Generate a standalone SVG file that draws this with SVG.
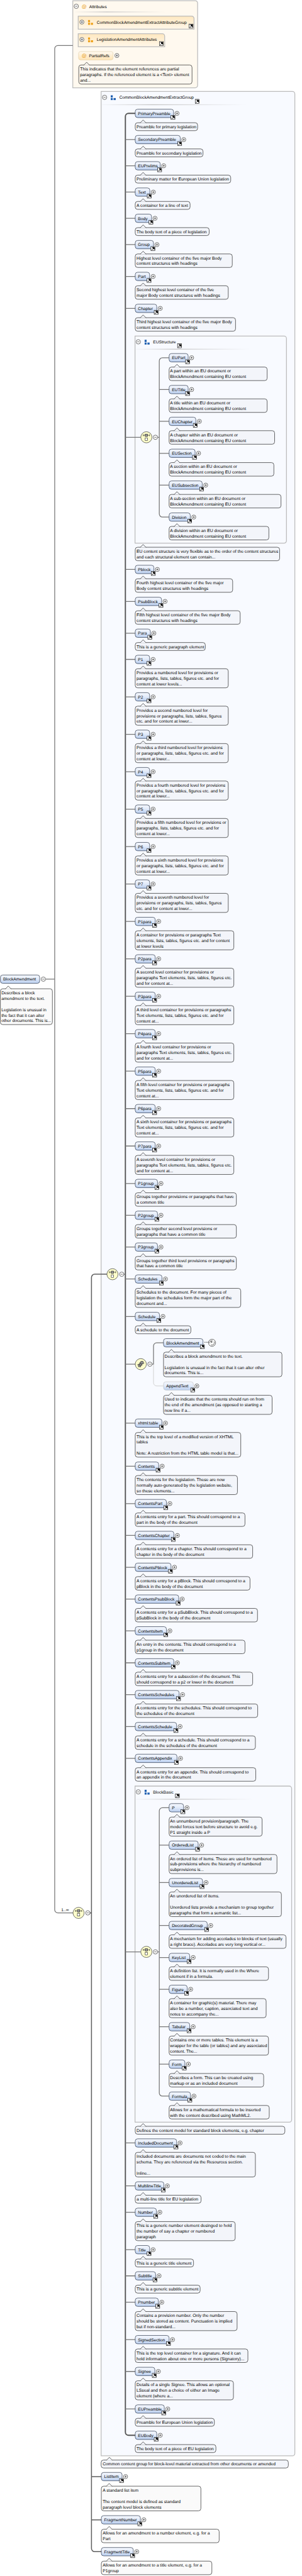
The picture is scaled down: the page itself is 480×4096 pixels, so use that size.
<svg xmlns="http://www.w3.org/2000/svg" width="480" height="4096" viewBox="0 0 480 4096">
<style>
text{font-family:"Liberation Sans",Arial,sans-serif;fill:#000;stroke:none;text-rendering:geometricPrecision}
.l{font-size:10.5px}
.c{font-size:10.67px}
.at{font-size:12.5px;fill:#e8a020}
.e{fill:url(#ge);stroke:#17243a;stroke-width:1;rx:6px}
.o{fill:url(#ge);stroke:#c4c4c4;stroke-width:1;rx:6px}
.n{stroke:#111;stroke-width:1;rx:6px}
.f{fill:#f8faff;stroke:#bcbcbc;stroke-width:2}
.ag{fill:url(#gg);stroke:#bcbcbc;stroke-width:2}
.sp{fill:url(#gs)}
.w{fill:#fafafa}
.cn{fill:none;stroke:#777;stroke-width:2}
.cd{fill:none;stroke:#555;stroke-width:3}
.cm{fill:none;stroke:#5e5e5e;stroke-width:2.4}
.cl{fill:none;stroke:#ccc;stroke-width:1.4}
</style>
<defs>
<linearGradient id="ge" x1="0" y1="0" x2="0" y2="1"><stop offset="0" stop-color="#f4f7fd"/><stop offset=".45" stop-color="#e4ecfa"/><stop offset="1" stop-color="#b8cdee"/></linearGradient>
<linearGradient id="gg" x1="0" y1="0" x2="0" y2="1"><stop offset="0" stop-color="#ffe8c0"/><stop offset="1" stop-color="#fff7e9"/></linearGradient>
<linearGradient id="gr" x1="0" y1="0" x2="0" y2="1"><stop offset="0" stop-color="#fffaf2"/><stop offset="1" stop-color="#ffe3b4"/></linearGradient>
<linearGradient id="gs"><stop offset="0" stop-color="#ccc" stop-opacity=".1"/><stop offset=".35" stop-color="#c4c4c4"/><stop offset="1" stop-color="#ccc" stop-opacity="0"/></linearGradient>
<g id="a"><rect x="-5" y="-5" width="10" height="10" fill="#fff" stroke="#000"/><path d="M-3 3.5L2 -1.5M-1.500 -3H3.500V2z" fill="#000" stroke="#000" stroke-width="1.500"/></g>
<g id="p"><circle r="5.2" fill="#fff" stroke="#222"/><path d="M-2.800 0H2.800M0 -2.800V2.800" stroke="#222" fill="none"/></g>
<g id="m"><circle r="5.500" fill="#fff" stroke="#222"/><path d="M-2.800 0H2.800" stroke="#222" fill="none"/></g>
<path id="t" d="M12.400 24.100L19.800 16.500L27.200 24.100" stroke="#111" stroke-width="1"/>
<g id="s"><ellipse rx="14" ry="14" fill="#ffffcc" stroke="#222"/><path d="M-8 -5H8M-8 -7.500V-2.500M8 -7.500V-2.500" stroke="#222" fill="none"/><rect x="-3" y="-8" width="6" height="6" fill="#999" stroke="#222"/><rect x="-3" y="1.500" width="6" height="6.500" fill="#fff" stroke="#222"/></g>
<g id="ch"><ellipse rx="14" ry="14" fill="#ffffcc" stroke="#222"/><path d="M-9 1.500H-4M4 -3H9" stroke="#222" fill="none"/><rect x="-6" y="0" width="6" height="6.500" fill="#999" stroke="#222"/><rect x="-3" y="-3.500" width="6" height="6.500" fill="#999" stroke="#222"/><rect x="0" y="-7" width="6" height="6.500" fill="#999" stroke="#222"/></g>
<g id="gb" fill="#2060b0"><rect width="5" height="5.500"/><rect y="7" width="5" height="5"/><rect x="7" y="7" width="5.500" height="5"/></g>
<g id="go" fill="#eea11a"><rect width="5" height="5.500"/><rect y="7" width="5" height="5"/><rect x="7" y="7" width="5.500" height="5"/></g>
</defs>
<g transform="scale(.63325 .63308)" fill="#f3f5fa">

<g id="AttributesFrame">
<path class="f" style="fill:#fff9ef" d="M182.700 1.700H490a6 6 0 0 1 6 6V214.400a6 6 0 0 1-6 6H182.700z"/>
<use href="#m" x="191.400" y="15.800"/><text class="at" x="205" y="20.500">@</text><text class="l" x="223.800" y="20">Attributes</text>
<rect class="sp" x="188" y="29" width="228" height="2"/>
</g>
<g id="CommonBlockAmendmentExtractGroupFrame">
<path class="f" d="M253.800 229.700H734a6 6 0 0 1 6 6V6162.200a6 6 0 0 1-6 6H253.800z"/>
<use href="#m" x="262.500" y="244.500"/><use href="#gb" x="278" y="239.300"/><text class="l" x="299.700" y="248.500">CommonBlockAmendmentExtractGroup</text><use href="#a" x="495" y="254.500"/>
<rect class="sp" x="256" y="262" width="365" height="2"/>
<g transform="translate(253.800 6155.300)"><rect class="n" y="23.400" width="469.900" height="20"/><use href="#t" x="1"/><text class="c" x="3.900" y="37.400">Common content group for block-level material extracted from other documents or amended</text></g>
</g>
<g id="EUStructureFrame">
<path class="f" d="M338.900 844.100H713a6 6 0 0 1 6 6V1358.100a6 6 0 0 1-6 6H338.900z"/>
<use href="#m" x="347.100" y="858.600"/><use href="#gb" x="363" y="853.400"/><text class="l" x="384.300" y="862.600">EUStructure</text><use href="#a" x="450.600" y="868.500"/>
<rect class="sp" x="341" y="876" width="287" height="2"/>
<g transform="translate(339.400 1351)"><rect class="n" y="23.400" width="362.500" height="34"/><use href="#t"/><text class="c" x="3.400" y="37.400">EU content structure is very flexible as to the order of the content structures</text><text class="c" x="3.400" y="51.400">and each structural element can contain...</text></g>
</g>
<g id="BlockBasicFrame">
<path class="f" d="M338.900 4486H726a6 6 0 0 1 6 6V5324.100a6 6 0 0 1-6 6H338.900z"/>
<use href="#m" x="347.100" y="4500.500"/><use href="#gb" x="363" y="4495.300"/><text class="l" x="384.300" y="4504.500">BlockBasic</text><use href="#a" x="445.200" y="4510.400"/>
<rect class="sp" x="341" y="4518" width="296" height="2"/>
<g transform="translate(339.400 5317)"><rect class="n" y="23.400" width="375.600" height="20"/><use href="#t"/><text class="c" x="3.400" y="37.400">Defines the content model for standard block elements, e.g. chapter</text></g>
</g>

<g id="connectors">
<path class="cn" d="M182.700 114.300H145.300a8 8 0 0 0-8 8V4796.500a8 8 0 0 0 8 8H183.700M114.600 2459.300H137.300"/>
<path class="cm" d="M268.300 3200.400H237.600a8 8 0 0 0-8 8V6400.900a8 8 0 0 0 8 8H254.300M226 4804.500H229.600M229.600 6220.300H254.300M229.600 6328.800H254.300"/>
<path class="cd" d="M339.400 284.800H322.700a8 8 0 0 0-8 8V6108.500a8 8 0 0 0 8 8H339.400"/>
<path class="cn" d="M310 3200.400H314.700M314.700 350.600H339.400M314.700 416.400H339.400M314.700 482.500H339.400M314.700 548.300H339.400M314.700 614.400H339.400M314.700 694.300H339.400M314.700 774.500H339.400M314.700 1098.300H353.400M314.700 1430.200H339.400M314.700 1510.500H339.400M314.700 1590.400H339.400M314.700 1656.200H339.400M314.700 1750.200H339.400M314.700 1844.200H339.400M314.700 1938.200H339.400M314.700 2032.200H339.400M314.700 2126.300H339.400M314.700 2220.300H339.400M314.700 2314.300H339.400M314.700 2408.300H339.400M314.700 2502.300H339.400M314.700 2596.300H339.400M314.700 2690.400H339.400M314.700 2784.400H339.400M314.700 2878.400H339.400M314.700 2972.400H339.400M314.700 3052.300H339.400M314.700 3132.200H339.400M314.700 3212.400H339.400M314.700 3306.500H339.400M314.700 3426.300H339.400M314.700 3574.400H339.400M314.700 3682.500H339.400M314.700 3776.500H339.400M314.700 3856.500H339.400M314.700 3936.400H339.400M314.700 4016.300H339.400M314.700 4096.100H339.400M314.700 4176.400H339.400M314.700 4256.300H339.400M314.700 4336.500H339.400M314.700 4416.400H339.400M314.700 4902.400H353.400M314.700 5382.400H339.400M314.700 5490.200H339.400M314.700 5556.400H339.400M314.700 5650.400H339.400M314.700 5716.100H339.400M314.700 5782.300H339.400M314.700 5876.300H339.400M314.700 5956.200H339.400M314.700 6050.500H339.400"/>
<path class="cn" d="M424.400 898.500H407.800a8 8 0 0 0-8 8V1290.700a8 8 0 0 0 8 8H424.400M395.500 1098.300H399.800M399.800 978.400H424.400M399.800 1058.300H424.400M399.800 1138.500H424.400M399.800 1218.400H424.400"/>
<path class="cn" d="M424.400 4540.400H407.800a8 8 0 0 0-8 8V5256.700a8 8 0 0 0 8 8H424.400M395.500 4902.400H399.800M399.800 4634.400H424.400M399.800 4728.400H424.400M399.800 4836.200H424.400M399.800 4916.500H424.400M399.800 4996.400H424.400M399.800 5090.400H424.400M399.800 5184.400H424.400"/>
<path class="cn" d="M381.500 3426.300H385.300V3380.600a8 8 0 0 1 8-8H410.400"/>
<path class="cl" d="M385.300 3426.300V3473a8 8 0 0 0 8 8H410.400"/>
</g>

<g id="CommonBlockAmendmentExtractAttributeGroup"><path class="ag" d="M196.300 40.600H481a6 6 0 0 1 6 6V73.400H196.300z"/><use href="#p" x="205.500" y="55.400"/><use href="#go" x="221" y="50.300"/><text class="l" x="242.700" y="59.400">CommonBlockAmendmentExtractAttributeGroup</text><use href="#a" x="479.600" y="65.400"/></g>
<g id="LegislationAmendmentAttributes"><path class="ag" d="M196.300 84.700H407.300a6 6 0 0 1 6 6V117.400H196.300z"/><use href="#p" x="205.500" y="99.200"/><use href="#go" x="221" y="94.100"/><text class="l" x="242.700" y="103.200">LegislationAmendmentAttributes</text><use href="#a" x="405.100" y="109.500"/></g>
<g id="PartialRefs" fill="#fbf7f0"><rect x="197.200" y="129.500" width="86.600" height="21" rx="5" fill="url(#gr)" stroke="#e0cfa8"/><text class="at" x="205" y="144.500">@</text><text class="l" x="223.300" y="144.200">PartialRefs</text><use href="#p" x="293.400" y="139.500"/>
<g transform="translate(197.700 139.800)"><rect class="n" y="23.400" width="284.300" height="48"/><use href="#t"/><text class="c" x="3.400" y="37.400">This indicates that the element references are partial</text><text class="c" x="3.400" y="51.400">paragraphs. If the referenced element is a &lt;Text&gt; element</text><text class="c" x="3.400" y="65.400">and...</text></g></g>

<g id="BlockAmendment" class="w" transform="translate(1 2459.300)"><rect class="e" y="-10.500" width="98.600" height="21"/><text class="l" x="7" y="4">BlockAmendment</text><use href="#m" x="107.800"/><rect class="n" y="24.100" width="130.500" height="90"/><use href="#t" y=".7"/><text class="c" x="2.400" y="38.100">Describes a block</text><text class="c" x="2.400" y="52.100">amendment to the text.</text><text class="c" x="2.400" y="80.100">Legislation is unusual in</text><text class="c" x="2.400" y="94.100">the fact that it can alter</text><text class="c" x="2.400" y="108.100">other documents. This is...</text></g>

<use id="seqRoot" href="#s" x="197.200" y="4804.500"/><use href="#m" x="220.400" y="4804.500"/>
<text id="occurs" class="l" x="153.700" y="4801">1..∞</text>
<use id="seqGroup" href="#s" x="282.300" y="3200.400"/><use href="#m" x="305.500" y="3200.400"/>
<use id="seqEU" href="#s" x="367.400" y="1098.300"/><use href="#m" x="390.100" y="1098.300"/>
<use id="seqBasic" href="#s" x="367.400" y="4902.400"/><use href="#m" x="390.100" y="4902.400"/>
<use id="choice" href="#ch" x="353.400" y="3426.300"/><use href="#m" x="376.100" y="3426.300"/>

<g id="PrimaryPreamble" transform="translate(339.400 284.800)"><rect class="e" y="-10.500" width="96.200" height="21"/><text class="l" x="7" y="4">PrimaryPreamble</text><use href="#a" x="94.700" y="10"/><use href="#p" x="104.900"/><rect class="n" y="23.400" width="156.600" height="20"/><use href="#t"/><text class="c" x="3.400" y="37.400">Preamble for primary legislation</text></g>
<g id="SecondaryPreamble" transform="translate(339.400 350.600)"><rect class="e" y="-10.500" width="113.100" height="21"/><text class="l" x="7" y="4">SecondaryPreamble</text><use href="#a" x="111.600" y="10"/><use href="#p" x="121.800"/><rect class="n" y="23.400" width="170.100" height="20"/><use href="#t"/><text class="c" x="3.400" y="37.400">Preamble for secondary legislation</text></g>
<g id="EUPrelims" transform="translate(339.400 416.400)"><rect class="e" y="-10.500" width="62.800" height="21"/><text class="l" x="7" y="4">EUPrelims</text><use href="#a" x="61.300" y="10"/><use href="#p" x="71.500"/><rect class="n" y="23.400" width="239.700" height="20"/><use href="#t"/><text class="c" x="3.400" y="37.400">Preliminary matter for European Union legislation</text></g>
<g id="Text" transform="translate(339.400 482.500)"><rect class="e" y="-10.500" width="36.700" height="21"/><text class="l" x="7" y="4">Text</text><use href="#a" x="35.200" y="10"/><use href="#p" x="45.400"/><rect class="n" y="23.400" width="137.700" height="20"/><use href="#t"/><text class="c" x="3.400" y="37.400">A container for a line of text</text></g>
<g id="Body" transform="translate(339.400 548.300)"><rect class="e" y="-10.500" width="41" height="21"/><text class="l" x="7" y="4">Body</text><use href="#a" x="39.500" y="10"/><use href="#p" x="49.700"/><rect class="n" y="23.400" width="185.600" height="20"/><use href="#t"/><text class="c" x="3.400" y="37.400">The body text of a piece of legislation</text></g>
<g id="Group" transform="translate(339.400 614.400)"><rect class="e" y="-10.500" width="45.900" height="21"/><text class="l" x="7" y="4">Group</text><use href="#a" x="44.400" y="10"/><use href="#p" x="54.600"/><rect class="n" y="23.400" width="243.600" height="34"/><use href="#t"/><text class="c" x="3.400" y="37.400">Highest level container of the five major Body</text><text class="c" x="3.400" y="51.400">content structures with headings</text></g>
<g id="Part" transform="translate(339.400 694.300)"><rect class="e" y="-10.500" width="36.200" height="21"/><text class="l" x="7" y="4">Part</text><use href="#a" x="34.700" y="10"/><use href="#p" x="44.900"/><rect class="n" y="23.400" width="233.500" height="34"/><use href="#t"/><text class="c" x="3.400" y="37.400">Second highest level container of the five</text><text class="c" x="3.400" y="51.400">major Body content structures with headings</text></g>
<g id="Chapter" transform="translate(339.400 774.500)"><rect class="e" y="-10.500" width="54.100" height="21"/><text class="l" x="7" y="4">Chapter</text><use href="#a" x="52.600" y="10"/><use href="#p" x="62.800"/><rect class="n" y="23.400" width="251.800" height="34"/><use href="#t"/><text class="c" x="3.400" y="37.400">Third highest level container of the five major Body</text><text class="c" x="3.400" y="51.400">content structures with headings</text></g>

<g id="EUPart" transform="translate(424.400 898.500)"><rect class="e" y="-10.500" width="47.900" height="21"/><text class="l" x="7" y="4">EUPart</text><use href="#a" x="46.400" y="10"/><use href="#p" x="56.600"/><rect class="n" y="23.400" width="246.100" height="34"/><use href="#t"/><text class="c" x="2.400" y="37.400">A part within an EU document or</text><text class="c" x="2.400" y="51.400">BlockAmendment containing EU content</text></g>
<g id="EUTitle" transform="translate(424.400 978.400)"><rect class="e" y="-10.500" width="47.900" height="21"/><text class="l" x="7" y="4">EUTitle</text><use href="#a" x="46.400" y="10"/><use href="#p" x="56.600"/><rect class="n" y="23.400" width="246.100" height="34"/><use href="#t"/><text class="c" x="2.400" y="37.400">A title within an EU document or</text><text class="c" x="2.400" y="51.400">BlockAmendment containing EU content</text></g>
<g id="EUChapter" transform="translate(424.400 1058.300)"><rect class="e" y="-10.500" width="67.200" height="21"/><text class="l" x="7" y="4">EUChapter</text><use href="#a" x="65.700" y="10"/><use href="#p" x="75.900"/><rect class="n" y="23.400" width="264.900" height="34"/><use href="#t"/><text class="c" x="2.400" y="37.400">A chapter within an EU document or</text><text class="c" x="2.400" y="51.400">BlockAmendment containing EU content</text></g>
<g id="EUSection" transform="translate(424.400 1138.500)"><rect class="e" y="-10.500" width="65.300" height="21"/><text class="l" x="7" y="4">EUSection</text><use href="#a" x="63.800" y="10"/><use href="#p" x="74"/><rect class="n" y="23.400" width="263" height="34"/><use href="#t"/><text class="c" x="2.400" y="37.400">A section within an EU document or</text><text class="c" x="2.400" y="51.400">BlockAmendment containing EU content</text></g>
<g id="EUSubsection" transform="translate(424.400 1218.400)"><rect class="e" y="-10.500" width="83.200" height="21"/><text class="l" x="7" y="4">EUSubsection</text><use href="#a" x="81.700" y="10"/><use href="#p" x="91.900"/><rect class="n" y="23.400" width="280.900" height="34"/><use href="#t"/><text class="c" x="2.400" y="37.400">A sub-section within an EU document or</text><text class="c" x="2.400" y="51.400">BlockAmendment containing EU content</text></g>
<g id="Division" transform="translate(424.400 1298.700)"><rect class="e" y="-10.500" width="53.200" height="21"/><text class="l" x="7" y="4">Division</text><use href="#a" x="51.700" y="10"/><use href="#p" x="61.900"/><rect class="n" y="23.400" width="250.400" height="34"/><use href="#t"/><text class="c" x="2.400" y="37.400">A division within an EU document or</text><text class="c" x="2.400" y="51.400">BlockAmendment containing EU content</text></g>

<g id="Pblock" transform="translate(339.400 1430.200)"><rect class="e" y="-10.500" width="46.900" height="21"/><text class="l" x="7" y="4">Pblock</text><use href="#a" x="45.400" y="10"/><use href="#p" x="55.600"/><rect class="n" y="23.400" width="244.600" height="34"/><use href="#t"/><text class="c" x="3.400" y="37.400">Fourth highest level container of the five major</text><text class="c" x="3.400" y="51.400">Body content structures with headings</text></g>
<g id="PsubBlock" transform="translate(339.400 1510.500)"><rect class="e" y="-10.500" width="66.200" height="21"/><text class="l" x="7" y="4">PsubBlock</text><use href="#a" x="64.700" y="10"/><use href="#p" x="74.900"/><rect class="n" y="23.400" width="263.400" height="34"/><use href="#t"/><text class="c" x="3.400" y="37.400">Fifth highest level container of the five major Body</text><text class="c" x="3.400" y="51.400">content structures with headings</text></g>
<g id="Para" transform="translate(339.400 1590.400)"><rect class="e" y="-10.500" width="38.100" height="21"/><text class="l" x="7" y="4">Para</text><use href="#a" x="36.600" y="10"/><use href="#p" x="46.800"/><rect class="n" y="23.400" width="175.900" height="20"/><use href="#t"/><text class="c" x="3.400" y="37.400">This is a generic paragraph element</text></g>
<g id="P1" transform="translate(339.400 1656.200)"><rect class="e" y="-10.500" width="36.200" height="21"/><text class="l" x="7" y="4">P1</text><use href="#a" x="34.700" y="10"/><use href="#p" x="44.900"/><rect class="n" y="23.400" width="233.500" height="48"/><use href="#t"/><text class="c" x="3.400" y="37.400">Provides a numbered level for provisions or</text><text class="c" x="3.400" y="51.400">paragraphs, lists, tables, figures etc. and for</text><text class="c" x="3.400" y="65.400">content at lower levels...</text></g>
<g id="P2" transform="translate(339.400 1750.200)"><rect class="e" y="-10.500" width="36.200" height="21"/><text class="l" x="7" y="4">P2</text><use href="#a" x="34.700" y="10"/><use href="#p" x="44.900"/><rect class="n" y="23.400" width="233.500" height="48"/><use href="#t"/><text class="c" x="3.400" y="37.400">Provides a second numbered level for</text><text class="c" x="3.400" y="51.400">provisions or paragraphs, lists, tables, figures</text><text class="c" x="3.400" y="65.400">etc. and for content at lower...</text></g>
<g id="P3" transform="translate(339.400 1844.200)"><rect class="e" y="-10.500" width="36.200" height="21"/><text class="l" x="7" y="4">P3</text><use href="#a" x="34.700" y="10"/><use href="#p" x="44.900"/><rect class="n" y="23.400" width="233.500" height="48"/><use href="#t"/><text class="c" x="3.400" y="37.400">Provides a third numbered level for provisions</text><text class="c" x="3.400" y="51.400">or paragraphs, lists, tables, figures etc. and for</text><text class="c" x="3.400" y="65.400">content at lower...</text></g>
<g id="P4" transform="translate(339.400 1938.200)"><rect class="e" y="-10.500" width="36.200" height="21"/><text class="l" x="7" y="4">P4</text><use href="#a" x="34.700" y="10"/><use href="#p" x="44.900"/><rect class="n" y="23.400" width="233.500" height="48"/><use href="#t"/><text class="c" x="3.400" y="37.400">Provides a fourth numbered level for provisions</text><text class="c" x="3.400" y="51.400">or paragraphs, lists, tables, figures etc. and for</text><text class="c" x="3.400" y="65.400">content at lower...</text></g>
<g id="P5" transform="translate(339.400 2032.200)"><rect class="e" y="-10.500" width="36.200" height="21"/><text class="l" x="7" y="4">P5</text><use href="#a" x="34.700" y="10"/><use href="#p" x="44.900"/><rect class="n" y="23.400" width="233.500" height="48"/><use href="#t"/><text class="c" x="3.400" y="37.400">Provides a fifth numbered level for provisions or</text><text class="c" x="3.400" y="51.400">paragraphs, lists, tables, figures etc. and for</text><text class="c" x="3.400" y="65.400">content at lower...</text></g>
<g id="P6" transform="translate(339.400 2126.300)"><rect class="e" y="-10.500" width="36.200" height="21"/><text class="l" x="7" y="4">P6</text><use href="#a" x="34.700" y="10"/><use href="#p" x="44.900"/><rect class="n" y="23.400" width="233.500" height="48"/><use href="#t"/><text class="c" x="3.400" y="37.400">Provides a sixth numbered level for provisions</text><text class="c" x="3.400" y="51.400">or paragraphs, lists, tables, figures etc. and for</text><text class="c" x="3.400" y="65.400">content at lower...</text></g>
<g id="P7" transform="translate(339.400 2220.300)"><rect class="e" y="-10.500" width="36.200" height="21"/><text class="l" x="7" y="4">P7</text><use href="#a" x="34.700" y="10"/><use href="#p" x="44.900"/><rect class="n" y="23.400" width="233.500" height="48"/><use href="#t"/><text class="c" x="3.400" y="37.400">Provides a seventh numbered level for</text><text class="c" x="3.400" y="51.400">provisions or paragraphs, lists, tables, figures</text><text class="c" x="3.400" y="65.400">etc. and for content at lower...</text></g>
<g id="P1para" transform="translate(339.400 2314.300)"><rect class="e" y="-10.500" width="50.200" height="21"/><text class="l" x="7" y="4">P1para</text><use href="#a" x="48.700" y="10"/><use href="#p" x="58.900"/><rect class="n" y="23.400" width="247.500" height="48"/><use href="#t"/><text class="c" x="3.400" y="37.400">A container for provisions or paragraphs Text</text><text class="c" x="3.400" y="51.400">elements, lists, tables, figures etc. and for content</text><text class="c" x="3.400" y="65.400">at lower levels</text></g>
<g id="P2para" transform="translate(339.400 2408.300)"><rect class="e" y="-10.500" width="50.200" height="21"/><text class="l" x="7" y="4">P2para</text><use href="#a" x="48.700" y="10"/><use href="#p" x="58.900"/><rect class="n" y="23.400" width="247.500" height="48"/><use href="#t"/><text class="c" x="3.400" y="37.400">A second level container for provisions or</text><text class="c" x="3.400" y="51.400">paragraphs Text elements, lists, tables, figures etc.</text><text class="c" x="3.400" y="65.400">and for content at...</text></g>
<g id="P3para" transform="translate(339.400 2502.300)"><rect class="e" y="-10.500" width="50.200" height="21"/><text class="l" x="7" y="4">P3para</text><use href="#a" x="48.700" y="10"/><use href="#p" x="58.900"/><rect class="n" y="23.400" width="247.500" height="48"/><use href="#t"/><text class="c" x="3.400" y="37.400">A third level container for provisions or paragraphs</text><text class="c" x="3.400" y="51.400">Text elements, lists, tables, figures etc. and for</text><text class="c" x="3.400" y="65.400">content at...</text></g>
<g id="P4para" transform="translate(339.400 2596.300)"><rect class="e" y="-10.500" width="50.200" height="21"/><text class="l" x="7" y="4">P4para</text><use href="#a" x="48.700" y="10"/><use href="#p" x="58.900"/><rect class="n" y="23.400" width="247.500" height="48"/><use href="#t"/><text class="c" x="3.400" y="37.400">A fourth level container for provisions or</text><text class="c" x="3.400" y="51.400">paragraphs Text elements, lists, tables, figures etc.</text><text class="c" x="3.400" y="65.400">and for content at...</text></g>
<g id="P5para" transform="translate(339.400 2690.400)"><rect class="e" y="-10.500" width="50.200" height="21"/><text class="l" x="7" y="4">P5para</text><use href="#a" x="48.700" y="10"/><use href="#p" x="58.900"/><rect class="n" y="23.400" width="247.500" height="48"/><use href="#t"/><text class="c" x="3.400" y="37.400">A fifth level container for provisions or paragraphs</text><text class="c" x="3.400" y="51.400">Text elements, lists, tables, figures etc. and for</text><text class="c" x="3.400" y="65.400">content at...</text></g>
<g id="P6para" transform="translate(339.400 2784.400)"><rect class="e" y="-10.500" width="50.200" height="21"/><text class="l" x="7" y="4">P6para</text><use href="#a" x="48.700" y="10"/><use href="#p" x="58.900"/><rect class="n" y="23.400" width="247.500" height="48"/><use href="#t"/><text class="c" x="3.400" y="37.400">A sixth level container for provisions or paragraphs</text><text class="c" x="3.400" y="51.400">Text elements, lists, tables, figures etc. and for</text><text class="c" x="3.400" y="65.400">content at...</text></g>
<g id="P7para" transform="translate(339.400 2878.400)"><rect class="e" y="-10.500" width="50.200" height="21"/><text class="l" x="7" y="4">P7para</text><use href="#a" x="48.700" y="10"/><use href="#p" x="58.900"/><rect class="n" y="23.400" width="247.500" height="48"/><use href="#t"/><text class="c" x="3.400" y="37.400">A seventh level container for provisions or</text><text class="c" x="3.400" y="51.400">paragraphs Text elements, lists, tables, figures etc.</text><text class="c" x="3.400" y="65.400">and for content at...</text></g>
<g id="P1group" transform="translate(339.400 2972.400)"><rect class="e" y="-10.500" width="56" height="21"/><text class="l" x="7" y="4">P1group</text><use href="#a" x="54.500" y="10"/><use href="#p" x="64.700"/><rect class="n" y="23.400" width="253.800" height="34"/><use href="#t"/><text class="c" x="3.400" y="37.400">Groups together provisions or paragraphs that have</text><text class="c" x="3.400" y="51.400">a common title</text></g>
<g id="P2group" transform="translate(339.400 3052.300)"><rect class="e" y="-10.500" width="56" height="21"/><text class="l" x="7" y="4">P2group</text><use href="#a" x="54.500" y="10"/><use href="#p" x="64.700"/><rect class="n" y="23.400" width="253.800" height="34"/><use href="#t"/><text class="c" x="3.400" y="37.400">Groups together second level provisions or</text><text class="c" x="3.400" y="51.400">paragraphs that have a common title</text></g>
<g id="P3group" transform="translate(339.400 3132.200)"><rect class="e" y="-10.500" width="56" height="21"/><text class="l" x="7" y="4">P3group</text><use href="#a" x="54.500" y="10"/><use href="#p" x="64.700"/><rect class="n" y="23.400" width="253.800" height="34"/><use href="#t"/><text class="c" x="3.400" y="37.400">Groups together third level provisions or paragraphs</text><text class="c" x="3.400" y="51.400">that have a common title</text></g>
<g id="Schedules" transform="translate(339.400 3212.400)"><rect class="e" y="-10.500" width="67.200" height="21"/><text class="l" x="7" y="4">Schedules</text><use href="#a" x="65.700" y="10"/><use href="#p" x="75.900"/><rect class="n" y="23.400" width="264.900" height="48"/><use href="#t"/><text class="c" x="3.400" y="37.400">Schedules to the document. For many pieces of</text><text class="c" x="3.400" y="51.400">legislation the schedules form the major part of the</text><text class="c" x="3.400" y="65.400">document and...</text></g>
<g id="Schedule" transform="translate(339.400 3306.500)"><rect class="e" y="-10.500" width="60.900" height="21"/><text class="l" x="7" y="4">Schedule</text><use href="#a" x="59.400" y="10"/><use href="#p" x="69.600"/><rect class="n" y="23.400" width="139.700" height="20"/><use href="#t"/><text class="c" x="3.400" y="37.400">A schedule to the document</text></g>

<g id="BlockAmendmentRef" transform="translate(410.400 3372.600)"><rect class="e" y="-10.500" width="99.100" height="21"/><text class="l" x="7" y="4">BlockAmendment</text><use href="#a" x="97.600" y="10"/><path d="M103 -1.500h1.800M106.800 -1.500h1.800M110.600 -1.500h1.800" stroke="#111" stroke-width="1.600" fill="none"/><circle cx="121.800" r="9" fill="#fff" stroke="#222"/><circle cx="121.800" r="5.800" fill="none" stroke="#222" stroke-dasharray="12 4"/><path d="M118.500 -3.500h4.500l-2 3.500z" fill="#222"/><rect class="n" y="23.400" width="297.300" height="62"/><use href="#t"/><text class="c" x="2.600" y="37.400">Describes a block amendment to the text.</text><text class="c" x="2.600" y="65.400">Legislation is unusual in the fact that it can alter other</text><text class="c" x="2.600" y="79.400">documents. This is...</text></g>
<g id="AppendText" transform="translate(410.400 3481)"><rect class="o" y="-10.500" width="75" height="21"/><text class="l" x="7" y="4">AppendText</text><use href="#a" x="73.500" y="10"/><use href="#p" x="83.700"/><rect class="n" y="23.400" width="272.600" height="48"/><use href="#t"/><text class="c" x="2.600" y="37.400">Used to indicate that the contents should run on from</text><text class="c" x="2.600" y="51.400">the end of the amendment (as opposed to starting a</text><text class="c" x="2.600" y="65.400">new line if a...</text></g>

<g id="xhtml-table" transform="translate(339.400 3574.400)"><rect class="e" y="-10.500" width="67.200" height="21"/><text class="l" x="7" y="4">xhtml:table</text><use href="#a" x="65.700" y="10"/><use href="#p" x="75.900"/><rect class="n" y="23.400" width="264.900" height="62"/><use href="#t"/><text class="c" x="3.400" y="37.400">This is the top level of a modified version of XHTML</text><text class="c" x="3.400" y="51.400">tables</text><text class="c" x="3.400" y="79.400">Note: A restriction from the HTML table model is that...</text></g>
<g id="Contents" transform="translate(339.400 3682.500)"><rect class="e" y="-10.500" width="58.900" height="21"/><text class="l" x="7" y="4">Contents</text><use href="#a" x="57.400" y="10"/><use href="#p" x="67.600"/><rect class="n" y="23.400" width="256.600" height="48"/><use href="#t"/><text class="c" x="3.400" y="37.400">The contents for the legislation. These are now</text><text class="c" x="3.400" y="51.400">normally auto-generated by the legislation website,</text><text class="c" x="3.400" y="65.400">so these elements...</text></g>
<g id="ContentsPart" transform="translate(339.400 3776.500)"><rect class="e" y="-10.500" width="78.300" height="21"/><text class="l" x="7" y="4">ContentsPart</text><use href="#a" x="76.800" y="10"/><use href="#p" x="87"/><rect class="n" y="23.400" width="275.500" height="34"/><use href="#t"/><text class="c" x="3.400" y="37.400">A contents entry for a part. This should correspond to a</text><text class="c" x="3.400" y="51.400">part in the body of the document</text></g>
<g id="ContentsChapter" transform="translate(339.400 3856.500)"><rect class="e" y="-10.500" width="97.100" height="21"/><text class="l" x="7" y="4">ContentsChapter</text><use href="#a" x="95.600" y="10"/><use href="#p" x="105.800"/><rect class="n" y="23.400" width="294.800" height="34"/><use href="#t"/><text class="c" x="3.400" y="37.400">A contents entry for a chapter. This should correspond to a</text><text class="c" x="3.400" y="51.400">chapter in the body of the document</text></g>
<g id="ContentsPblock" transform="translate(339.400 3936.400)"><rect class="e" y="-10.500" width="89.900" height="21"/><text class="l" x="7" y="4">ContentsPblock</text><use href="#a" x="88.400" y="10"/><use href="#p" x="98.600"/><rect class="n" y="23.400" width="288.100" height="34"/><use href="#t"/><text class="c" x="3.400" y="37.400">A contents entry for a pBlock. This should correspond to a</text><text class="c" x="3.400" y="51.400">pBlock in the body of the document</text></g>
<g id="ContentsPsubBlock" transform="translate(339.400 4016.300)"><rect class="e" y="-10.500" width="109.200" height="21"/><text class="l" x="7" y="4">ContentsPsubBlock</text><use href="#a" x="107.700" y="10"/><use href="#p" x="117.900"/><rect class="n" y="23.400" width="306.900" height="34"/><use href="#t"/><text class="c" x="3.400" y="37.400">A contents entry for a pSubBlock. This should correspond to a</text><text class="c" x="3.400" y="51.400">pSubBlock in the body of the document</text></g>
<g id="ContentsItem" transform="translate(339.400 4096.100)"><rect class="e" y="-10.500" width="78.300" height="21"/><text class="l" x="7" y="4">ContentsItem</text><use href="#a" x="76.800" y="10"/><use href="#p" x="87"/><rect class="n" y="23.400" width="275.500" height="34"/><use href="#t"/><text class="c" x="3.400" y="37.400">An entry in the contents. This should correspond to a</text><text class="c" x="3.400" y="51.400">p1group in the document</text></g>
<g id="ContentsSubItem" transform="translate(339.400 4176.400)"><rect class="e" y="-10.500" width="97.100" height="21"/><text class="l" x="7" y="4">ContentsSubItem</text><use href="#a" x="95.600" y="10"/><use href="#p" x="105.800"/><rect class="n" y="23.400" width="294.800" height="34"/><use href="#t"/><text class="c" x="3.400" y="37.400">A contents entry for a subsection of the document. This</text><text class="c" x="3.400" y="51.400">should correspond to a p2 or lower in the document</text></g>
<g id="ContentsSchedules" transform="translate(339.400 4256.300)"><rect class="e" y="-10.500" width="110.200" height="21"/><text class="l" x="7" y="4">ContentsSchedules</text><use href="#a" x="108.700" y="10"/><use href="#p" x="118.900"/><rect class="n" y="23.400" width="307.400" height="34"/><use href="#t"/><text class="c" x="3.400" y="37.400">A contents entry for the schedules. This should correspond to</text><text class="c" x="3.400" y="51.400">the schedules of the document</text></g>
<g id="ContentsSchedule" transform="translate(339.400 4336.500)"><rect class="e" y="-10.500" width="103.900" height="21"/><text class="l" x="7" y="4">ContentsSchedule</text><use href="#a" x="102.400" y="10"/><use href="#p" x="112.600"/><rect class="n" y="23.400" width="301.600" height="34"/><use href="#t"/><text class="c" x="3.400" y="37.400">A contents entry for a schedule. This should correspond to a</text><text class="c" x="3.400" y="51.400">schedule in the schedules of the document</text></g>
<g id="ContentsAppendix" transform="translate(339.400 4416.400)"><rect class="e" y="-10.500" width="104.900" height="21"/><text class="l" x="7" y="4">ContentsAppendix</text><use href="#a" x="103.400" y="10"/><use href="#p" x="113.600"/><rect class="n" y="23.400" width="302.600" height="34"/><use href="#t"/><text class="c" x="3.400" y="37.400">A contents entry for an appendix. This should correspond to</text><text class="c" x="3.400" y="51.400">an appendix in the document</text></g>

<g id="P" transform="translate(424.400 4540.400)"><rect class="e" y="-10.500" width="36.300" height="21"/><text class="l" x="7" y="4">P</text><use href="#a" x="34.800" y="10"/><use href="#p" x="45"/><rect class="n" y="23.400" width="233.500" height="48"/><use href="#t"/><text class="c" x="2.400" y="37.400">An unnumbered provision/paragraph. The</text><text class="c" x="2.400" y="51.400">model forces text before structure to avoid e.g.</text><text class="c" x="2.400" y="65.400">P1 straight inside a P</text></g>
<g id="OrderedList" transform="translate(424.400 4634.400)"><rect class="e" y="-10.500" width="73" height="21"/><text class="l" x="7" y="4">OrderedList</text><use href="#a" x="71.500" y="10"/><use href="#p" x="81.700"/><rect class="n" y="23.400" width="270.800" height="48"/><use href="#t"/><text class="c" x="2.400" y="37.400">An ordered list of items. These are used for numbered</text><text class="c" x="2.400" y="51.400">sub-provisions where the hierarchy of numbered</text><text class="c" x="2.400" y="65.400">subprovisions is...</text></g>
<g id="UnorderedList" transform="translate(424.400 4728.400)"><rect class="e" y="-10.500" width="84.100" height="21"/><text class="l" x="7" y="4">UnorderedList</text><use href="#a" x="82.600" y="10"/><use href="#p" x="92.800"/><rect class="n" y="23.400" width="281.900" height="62"/><use href="#t"/><text class="c" x="2.400" y="37.400">An unordered list of items.</text><text class="c" x="2.400" y="65.400">Unordered lists provide a mechanism to group together</text><text class="c" x="2.400" y="79.400">paragraphs that form a semantic list...</text></g>
<g id="DecoratedGroup" transform="translate(424.400 4836.200)"><rect class="e" y="-10.500" width="95.800" height="21"/><text class="l" x="7" y="4">DecoratedGroup</text><use href="#a" x="94.300" y="10"/><use href="#p" x="104.500"/><rect class="n" y="23.400" width="293.500" height="34"/><use href="#t"/><text class="c" x="2.400" y="37.400">A mechanism for adding accolades to blocks of text (usually</text><text class="c" x="2.400" y="51.400">a right brace). Accolades are very long vertical or...</text></g>
<g id="KeyList" transform="translate(424.400 4916.500)"><rect class="e" y="-10.500" width="51.800" height="21"/><text class="l" x="7" y="4">KeyList</text><use href="#a" x="50.300" y="10"/><use href="#p" x="60.500"/><rect class="n" y="23.400" width="249.500" height="34"/><use href="#t"/><text class="c" x="2.400" y="37.400">A definition list. It is normally used in the Where</text><text class="c" x="2.400" y="51.400">element if in a formula.</text></g>
<g id="Figure" transform="translate(424.400 4996.400)"><rect class="e" y="-10.500" width="45.500" height="21"/><text class="l" x="7" y="4">Figure</text><use href="#a" x="44" y="10"/><use href="#p" x="54.200"/><rect class="n" y="23.400" width="243.600" height="48"/><use href="#t"/><text class="c" x="2.400" y="37.400">A container for graphic(s) material. There may</text><text class="c" x="2.400" y="51.400">also be a number, caption, associated text and</text><text class="c" x="2.400" y="65.400">notes to accompany the...</text></g>
<g id="Tabular" transform="translate(424.400 5090.400)"><rect class="e" y="-10.500" width="51.800" height="21"/><text class="l" x="7" y="4">Tabular</text><use href="#a" x="50.300" y="10"/><use href="#p" x="60.500"/><rect class="n" y="23.400" width="249.500" height="48"/><use href="#t"/><text class="c" x="2.400" y="37.400">Contains one or more tables. This element is a</text><text class="c" x="2.400" y="51.400">wrapper for the table (or tables) and any associated</text><text class="c" x="2.400" y="65.400">content. The...</text></g>
<g id="Form" transform="translate(424.400 5184.400)"><rect class="e" y="-10.500" width="39.700" height="21"/><text class="l" x="7" y="4">Form</text><use href="#a" x="38.200" y="10"/><use href="#p" x="48.400"/><rect class="n" y="23.400" width="237.400" height="34"/><use href="#t"/><text class="c" x="2.400" y="37.400">Describes a form. This can be created using</text><text class="c" x="2.400" y="51.400">markup or as an included document</text></g>
<g id="Formula" transform="translate(424.400 5264.700)"><rect class="e" y="-10.500" width="53.700" height="21"/><text class="l" x="7" y="4">Formula</text><use href="#a" x="52.200" y="10"/><use href="#p" x="62.400"/><rect class="n" y="23.400" width="251.400" height="34"/><use href="#t"/><text class="c" x="2.400" y="37.400">Allows for a mathematical formula to be inserted</text><text class="c" x="2.400" y="51.400">with the content described using MathML2.</text></g>

<g id="IncludedDocument" transform="translate(339.400 5382.400)"><rect class="e" y="-10.500" width="103.900" height="21"/><text class="l" x="7" y="4">IncludedDocument</text><use href="#a" x="102.400" y="10"/><use href="#p" x="112.600"/><rect class="n" y="23.400" width="301.600" height="62"/><use href="#t"/><text class="c" x="3.400" y="37.400">Included documents are documents not coded to the main</text><text class="c" x="3.400" y="51.400">schema. They are referenced via the Resources section.</text><text class="c" x="3.400" y="79.400">Inline...</text></g>
<g id="MultilineTitle" transform="translate(339.400 5490.200)"><rect class="e" y="-10.500" width="72" height="21"/><text class="l" x="7" y="4">MultilineTitle</text><use href="#a" x="70.500" y="10"/><use href="#p" x="80.700"/><rect class="n" y="23.400" width="165.300" height="20"/><use href="#t"/><text class="c" x="3.400" y="37.400">a multi-line title for EU legislation</text></g>
<g id="Number" transform="translate(339.400 5556.400)"><rect class="e" y="-10.500" width="53.100" height="21"/><text class="l" x="7" y="4">Number</text><use href="#a" x="51.600" y="10"/><use href="#p" x="61.800"/><rect class="n" y="23.400" width="250.900" height="48"/><use href="#t"/><text class="c" x="3.400" y="37.400">This is a generic number element desinged to hold</text><text class="c" x="3.400" y="51.400">the number of say a chapter or numbered</text><text class="c" x="3.400" y="65.400">paragraph</text></g>
<g id="Title" transform="translate(339.400 5650.400)"><rect class="e" y="-10.500" width="36.200" height="21"/><text class="l" x="7" y="4">Title</text><use href="#a" x="34.700" y="10"/><use href="#p" x="44.900"/><rect class="n" y="23.400" width="146.400" height="20"/><use href="#t"/><text class="c" x="3.400" y="37.400">This is a generic title element</text></g>
<g id="Subtitle" transform="translate(339.400 5716.100)"><rect class="e" y="-10.500" width="51.200" height="21"/><text class="l" x="7" y="4">Subtitle</text><use href="#a" x="49.700" y="10"/><use href="#p" x="59.900"/><rect class="n" y="23.400" width="162.900" height="20"/><use href="#t"/><text class="c" x="3.400" y="37.400">This is a generic subtitle element</text></g>
<g id="Pnumber" transform="translate(339.400 5782.300)"><rect class="e" y="-10.500" width="58" height="21"/><text class="l" x="7" y="4">Pnumber</text><use href="#a" x="56.500" y="10"/><use href="#p" x="66.700"/><rect class="n" y="23.400" width="255.700" height="48"/><use href="#t"/><text class="c" x="3.400" y="37.400">Contains a provision number. Only the number</text><text class="c" x="3.400" y="51.400">should be stored as content. Punctuation is implied</text><text class="c" x="3.400" y="65.400">but if non-standard...</text></g>
<g id="SignedSection" transform="translate(339.400 5876.300)"><rect class="e" y="-10.500" width="85" height="21"/><text class="l" x="7" y="4">SignedSection</text><use href="#a" x="83.500" y="10"/><use href="#p" x="93.700"/><rect class="n" y="23.400" width="282.800" height="34"/><use href="#t"/><text class="c" x="3.400" y="37.400">This is the top level container for a signature. And it can</text><text class="c" x="3.400" y="51.400">hold information about one or more persons (Signatory)...</text></g>
<g id="Signee" transform="translate(339.400 5956.200)"><rect class="e" y="-10.500" width="49.300" height="21"/><text class="l" x="7" y="4">Signee</text><use href="#a" x="47.800" y="10"/><use href="#p" x="58"/><rect class="n" y="23.400" width="246.500" height="48"/><use href="#t"/><text class="c" x="3.400" y="37.400">Details of a single Signee. This allows an optional</text><text class="c" x="3.400" y="51.400">LSseal and then a choice of either an Image</text><text class="c" x="3.400" y="65.400">element (where a...</text></g>
<g id="EUPreamble" transform="translate(339.400 6050.500)"><rect class="e" y="-10.500" width="73" height="21"/><text class="l" x="7" y="4">EUPreamble</text><use href="#a" x="71.500" y="10"/><use href="#p" x="81.700"/><rect class="n" y="23.400" width="198.600" height="20"/><use href="#t"/><text class="c" x="3.400" y="37.400">Preamble for European Union legislation</text></g>
<g id="EUBody" transform="translate(339.400 6116.500)"><rect class="e" y="-10.500" width="54.100" height="21"/><text class="l" x="7" y="4">EUBody</text><use href="#a" x="52.600" y="10"/><use href="#p" x="62.800"/><rect class="n" y="23.400" width="202.500" height="20"/><use href="#t"/><text class="c" x="3.400" y="37.400">The body text of a piece of EU legislation</text></g>

<g id="ListItem" class="w" transform="translate(254.300 6220.300)"><rect class="e" y="-10.500" width="52.200" height="21"/><text class="l" x="7" y="4">ListItem</text><use href="#a" x="50.700" y="10"/><use href="#p" x="60.900"/><rect class="n" y="24" width="249.900" height="62"/><use href="#t" y=".6"/><text class="c" x="3.400" y="38">A standard list item</text><text class="c" x="3.400" y="66">The content model is defined as standard</text><text class="c" x="3.400" y="80">paragraph level block elements</text></g>
<g id="FragmentNumber" class="w" transform="translate(254.300 6328.800)"><rect class="e" y="-10.500" width="98.100" height="21"/><text class="l" x="7" y="4">FragmentNumber</text><use href="#a" x="96.600" y="10"/><use href="#p" x="106.800"/><rect class="n" y="23.600" width="295.800" height="34"/><use href="#t"/><text class="c" x="3.400" y="37.600">Allows for an amendment to a number element, e.g. for a</text><text class="c" x="3.400" y="51.600">Part</text></g>
<g id="FragmentTitle" class="w" transform="translate(254.300 6408.900)"><rect class="e" y="-10.500" width="80.200" height="21"/><text class="l" x="7" y="4">FragmentTitle</text><use href="#a" x="78.700" y="10"/><use href="#p" x="88.900"/><rect class="n" y="23.700" width="277.500" height="34"/><use href="#t"/><text class="c" x="3.400" y="37.700">Allows for an amendment to a title element, e.g. for a</text><text class="c" x="3.400" y="51.700">P1group</text></g>
</g>
</svg>
